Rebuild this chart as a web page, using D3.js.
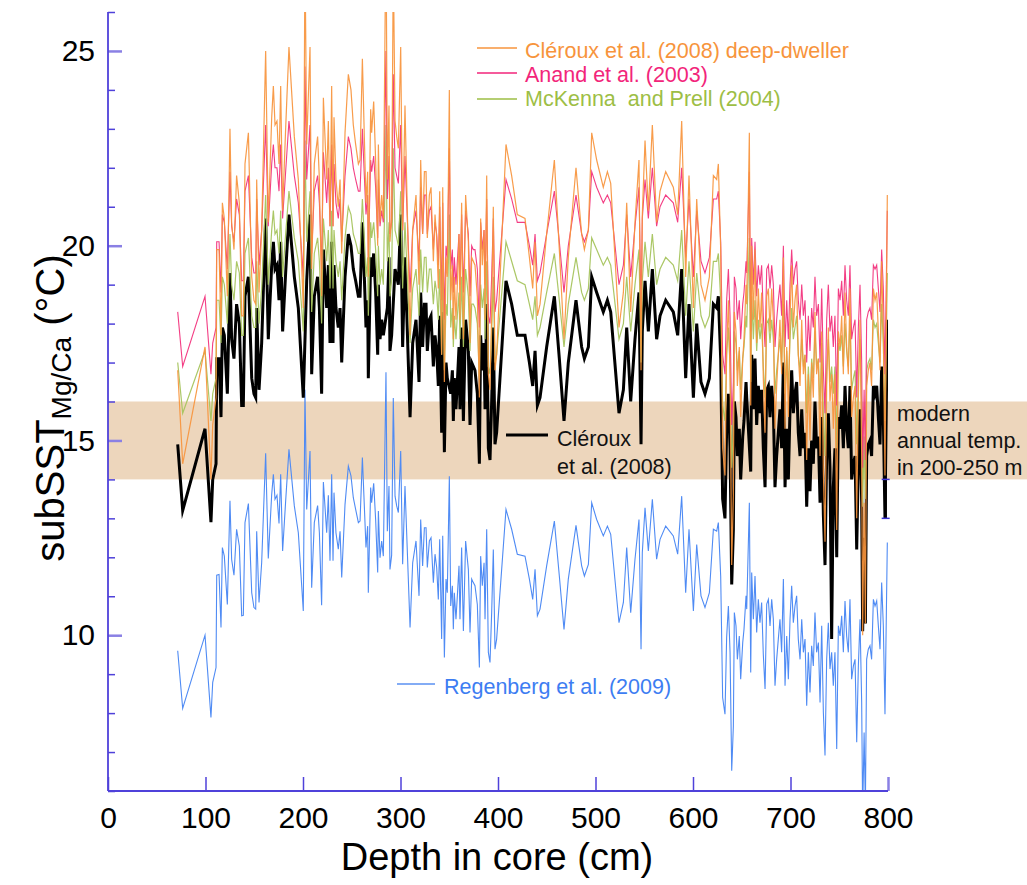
<!DOCTYPE html>
<html><head><meta charset="utf-8">
<script src="https://cdn.jsdelivr.net/npm/d3@7"></script>
<style>body{margin:0;background:#fff;} svg text{font-family:"Liberation Sans",Arial,sans-serif;}</style>
</head><body><svg id="c" width="1027" height="885"></svg>
<script>
// Depth in core (cm), shared by all series
const depth = [
71.5,76.6,99.5,105.6,107.4,110.8,111.5,113.9,115.9,117.3,
119.3,122.4,125.1,126.8,129.2,131.9,134.7,137.1,138.8,140.5,
144.0,147.4,149.7,151.5,152.5,154.9,157.6,161.7,164.4,167.9,
169.6,171.3,173.3,175.4,177.1,179.1,182.2,185.6,191.1,195.2,
200.3,202.0,203.8,207.2,208.9,211.6,215.0,216.8,219.1,220.9,
224.3,226.0,227.7,229.4,230.8,231.8,233.8,236.2,238.0,239.7,
243.1,246.5,249.2,251.6,254.0,256.8,258.5,260.9,262.9,264.6,
266.3,267.0,269.4,270.4,272.5,274.5,276.6,277.3,279.0,280.7,
282.4,285.1,286.5,288.2,289.2,290.9,292.6,294.4,296.1,297.8,
300.2,302.2,304.6,309.8,312.5,315.9,319.0,320.7,322.7,324.5,
326.2,327.5,329.6,331.3,333.7,335.4,337.1,338.8,340.2,342.2,
343.3,345.0,346.7,348.0,350.1,351.5,353.2,354.2,355.2,356.9,
358.3,360.0,361.0,362.7,364.5,366.8,369.6,371.3,373.0,374.7,
376.4,378.8,380.9,382.2,383.9,385.7,386.7,388.4,390.1,391.8,
393.5,395.2,396.9,398.6,408.2,414.0,419.8,427.7,432.2,435.6,
438.0,440.4,443.1,449.9,457.8,462.9,467.7,472.1,480.0,485.8,
488.6,492.7,496.1,501.2,508.0,512.2,515.6,524.1,528.6,532.0,
536.1,540.5,544.6,546.7,548.0,550.8,554.2,558.3,562.7,566.2,
572.0,579.8,584.3,588.4,592.5,595.9,600.4,603.8,608.2,612.3,
616.8,620.9,624.3,626.0,628.4,630.4,632.8,634.5,636.3,638.0,
639.7,641.4,642.4,644.1,645.5,647.5,648.9,651.0,652.3,654.4,
655.1,657.8,659.2,660.2,661.9,663.6,665.3,667.0,668.7,670.4,
672.1,673.9,675.6,677.3,679.0,680.7,682.4,684.1,685.8,687.5,
689.2,690.9,692.7,694.4,696.1,697.8,699.5,701.2,702.9,704.6,
706.3,708.0,709.8,711.5,713.2,714.9,716.6,718.3,720.0,721.7,
723.4,725.1,726.8,728.6,730.3,732.0,733.7,735.4,737.1,738.8,
740.5,742.2,743.9,745.6,747.4,749.1,750.8,752.5,754.2,755.9,
757.6,759.3,761.0,762.7,764.5,766.2,767.9,769.6,771.3,773.0,
774.0,775.5,776.8,778.1,779.8,781.5,783.2,785.0,786.7,788.4,
790.1,791.8,793.5,795.2,796.9,799.3];

// Regenberg et al. (2009)
const regenberg = [
9.60,8.12,10.00,7.89,8.79,9.17,11.54,11.56,10.20,12.25,
12.03,10.79,13.45,11.95,11.54,12.72,12.29,10.50,10.51,12.89,
13.38,11.09,10.71,10.67,12.67,10.84,11.86,14.67,11.97,13.62,
14.13,13.49,13.59,12.87,14.13,12.16,13.44,14.77,13.32,12.63,
10.62,16.31,13.23,14.73,11.22,12.89,13.33,12.63,10.77,13.93,
12.63,13.59,11.91,14.13,11.91,13.66,12.63,12.21,12.67,11.48,
13.36,14.34,14.09,13.53,13.23,12.89,12.93,14.56,13.32,12.25,
12.80,11.09,13.79,13.40,13.90,12.97,11.61,13.19,11.99,12.42,
12.03,16.75,12.67,13.83,11.69,12.05,16.09,13.57,13.32,13.15,
14.73,11.82,13.83,10.20,11.86,12.42,11.01,12.97,11.78,12.76,
12.76,11.74,12.42,12.50,11.35,12.08,11.74,10.92,12.46,9.90,
12.55,9.43,11.44,11.09,14.08,10.75,11.27,10.15,11.09,10.41,
11.01,11.78,10.41,12.25,10.11,12.42,11.69,10.07,11.44,11.35,
11.27,10.79,9.17,12.03,11.27,11.86,10.41,12.72,9.56,9.30,
10.58,12.20,9.64,9.90,13.23,12.72,12.08,12.03,11.44,10.92,
11.69,10.50,10.67,11.78,12.93,11.52,10.15,11.44,12.82,11.78,
11.52,11.82,13.40,12.97,12.55,12.80,12.59,10.32,10.84,12.25,
10.58,11.95,12.97,9.64,12.12,13.27,12.16,13.49,11.95,12.46,
12.80,12.55,12.08,13.57,11.09,12.72,10.62,12.33,11.01,10.71,
11.09,12.72,12.67,12.89,11.52,8.40,7.97,9.94,10.75,9.56,
6.52,7.67,10.58,10.24,9.38,9.98,8.87,9.81,10.15,11.01,
10.67,13.40,9.04,11.61,10.41,11.52,10.07,10.92,10.32,10.84,
9.51,8.62,10.80,10.92,10.24,10.92,10.41,8.70,9.38,9.90,
10.41,9.56,11.44,8.70,9.98,8.87,10.41,11.27,10.32,10.75,
11.01,9.90,9.38,10.41,9.56,9.90,8.19,9.56,8.53,9.73,
9.21,10.58,9.56,9.81,8.27,10.24,8.02,6.91,9.38,10.32,
9.13,9.56,8.70,9.56,7.08,10.24,9.98,10.50,9.56,10.88,
9.98,9.56,10.92,8.87,9.21,9.38,7.25,9.21,10.41,8.27,
5.40,7.50,5.60,9.38,9.64,9.73,9.38,10.92,10.75,10.88,
10.24,9.64,11.35,10.24,7.97,12.38];

// Cléroux et al. (2008) (black)
const cleroux = [
14.9,13.2,15.3,12.9,14.0,14.4,17.1,17.1,15.6,17.9,
17.7,16.2,19.3,17.6,17.1,18.5,18.0,15.9,15.9,18.7,
19.2,16.6,16.2,16.1,18.4,16.3,17.5,20.7,17.6,19.5,
20.1,19.4,19.5,18.6,20.1,17.8,19.3,20.8,19.2,18.4,
16.1,null,19.1,20.8,16.7,18.7,19.2,18.4,16.2,19.9,
18.4,19.5,17.5,20.1,17.5,19.5,18.4,17.9,18.4,17.0,
19.2,20.3,20.0,19.4,19.1,18.7,18.7,20.6,19.2,17.9,
18.6,16.6,19.7,19.2,19.8,18.8,17.2,19.0,17.6,18.1,
17.7,null,18.4,19.7,17.3,17.7,null,19.4,19.2,19.0,
20.8,17.4,19.7,15.6,17.5,18.1,16.5,18.8,17.4,18.5,
18.5,17.3,18.1,18.2,16.9,17.7,17.3,16.4,18.2,15.2,
18.3,14.7,17.0,16.6,null,16.2,16.8,15.5,16.6,15.8,
16.5,17.4,15.8,17.9,15.5,18.1,17.3,15.4,17.0,16.9,
16.8,16.2,14.4,17.7,16.8,17.5,15.8,18.5,14.8,14.5,
16.0,17.9,14.9,15.2,19.1,18.5,17.7,17.7,17.0,16.4,
17.3,15.9,16.1,17.4,18.7,17.1,15.5,17.0,18.6,17.4,
17.1,17.4,19.2,18.8,18.3,18.6,18.3,15.7,16.3,17.9,
16.0,17.6,18.8,14.9,17.8,19.1,17.8,19.4,17.6,18.2,
18.6,18.3,17.7,19.4,16.6,18.5,16.1,18.0,16.5,16.2,
16.6,18.5,18.4,18.7,17.1,13.5,13.0,15.3,16.2,14.8,
11.3,12.7,16.0,15.6,14.6,15.3,14.0,15.1,15.5,16.5,
16.1,null,14.2,17.2,15.8,17.1,15.4,16.4,15.7,16.3,
14.8,13.8,16.3,16.4,15.6,16.4,15.8,13.8,14.6,15.2,
15.8,14.8,17.0,13.8,15.3,14.0,15.8,16.8,15.7,16.2,
16.5,15.2,14.6,15.8,14.8,15.2,13.3,14.8,13.7,15.0,
14.4,16.0,14.8,15.1,13.4,15.6,13.1,11.8,14.6,15.7,
14.3,9.9,13.8,14.8,12.0,15.6,15.3,15.9,14.8,16.4,
15.3,14.8,16.4,14.0,14.4,14.6,12.2,14.4,15.8,13.4,
10.1,12.5,10.3,14.6,14.9,15.0,14.6,16.4,16.2,16.4,
15.6,14.9,16.9,15.6,13.0,18.1];

// Anand et al. (2003)
const anand = [
18.3,16.9,18.7,16.7,17.5,17.9,20.1,20.1,18.8,20.8,
20.6,19.4,21.9,20.5,20.1,21.2,20.8,19.1,19.1,21.4,
21.8,19.7,19.3,19.3,21.2,19.5,20.4,23.1,20.5,22.1,
22.6,22.0,22.0,21.4,22.6,20.7,21.9,23.2,21.8,21.1,
19.2,24.6,21.7,23.1,19.8,21.4,21.8,21.1,19.4,22.4,
21.1,22.0,20.5,22.6,20.5,22.1,21.1,20.7,21.2,20.1,
21.8,22.8,22.5,22.0,21.7,21.4,21.4,23.0,21.8,20.8,
21.3,19.7,22.2,21.9,22.3,21.5,20.2,21.7,20.5,20.9,
20.6,25.0,21.2,22.3,20.3,20.6,24.4,22.0,21.8,21.6,
23.1,20.4,22.3,18.8,20.4,20.9,19.6,21.5,20.3,21.3,
21.3,20.3,20.9,21.0,19.9,20.6,20.3,19.5,21.0,18.6,
21.1,18.1,20.0,19.7,22.5,19.4,19.9,18.8,19.7,19.0,
19.6,20.3,19.0,20.8,18.8,20.9,20.3,18.7,20.0,19.9,
19.9,19.4,17.9,20.6,19.9,20.4,19.0,21.2,18.2,18.0,
19.2,20.7,18.3,18.6,21.7,21.2,20.6,20.6,20.0,19.5,
20.3,19.1,19.3,20.3,21.4,20.1,18.8,20.0,21.3,20.3,
20.1,20.4,21.9,21.5,21.1,21.3,21.1,19.0,19.5,20.8,
19.2,20.5,21.5,18.3,20.7,21.7,20.7,22.0,20.5,21.0,
21.3,21.1,20.6,22.0,19.7,21.2,19.2,20.9,19.6,19.3,
19.7,21.2,21.2,21.4,20.1,17.2,16.7,18.6,19.4,18.2,
15.4,16.5,19.2,18.9,18.1,18.6,17.6,18.5,18.8,19.6,
19.3,21.9,17.8,20.2,19.0,20.1,18.7,19.5,19.0,19.5,
18.2,17.4,19.4,19.5,18.9,19.5,19.0,17.4,18.1,18.6,
19.0,18.2,20.0,17.4,18.6,17.6,19.0,19.9,19.0,19.4,
19.6,18.6,18.1,19.0,18.2,18.6,17.0,18.2,17.3,18.4,
17.9,19.2,18.2,18.5,17.0,18.9,16.8,15.7,18.1,19.0,
17.8,18.2,17.4,18.2,15.9,18.9,18.6,19.1,18.2,19.5,
18.6,18.2,19.5,17.6,17.9,18.1,16.1,17.9,19.0,17.0,
14.3,16.3,14.5,18.1,18.3,18.4,18.1,19.5,19.4,19.5,
18.9,18.3,19.9,18.9,16.7,20.9];

// McKenna and Prell (2004)
const mckenna = [
17.0,15.7,17.3,15.5,16.2,16.6,18.6,18.6,17.5,19.2,
19.0,18.0,20.3,19.0,18.6,19.6,19.3,17.7,17.7,19.8,
20.2,18.2,17.9,17.9,19.6,18.0,18.9,21.3,19.0,20.4,
20.9,20.3,20.4,19.8,20.9,19.2,20.3,21.4,20.2,19.6,
17.8,22.7,20.1,21.4,18.3,19.8,20.2,19.6,18.0,20.7,
19.6,20.4,18.9,20.9,18.9,20.4,19.6,19.2,19.6,18.6,
20.2,21.0,20.8,20.3,20.1,19.8,19.8,21.2,20.2,19.2,
19.7,18.2,20.6,20.2,20.6,19.9,18.7,20.0,19.0,19.4,
19.0,23.1,19.6,20.6,18.7,19.1,22.5,20.4,20.2,20.0,
21.4,18.9,20.6,17.5,18.9,19.4,18.2,19.9,18.8,19.7,
19.7,18.8,19.4,19.4,18.5,19.1,18.8,18.1,19.4,17.2,
19.5,16.8,18.5,18.2,20.8,17.9,18.4,17.4,18.2,17.6,
18.2,18.8,17.6,19.2,17.4,19.4,18.7,17.3,18.5,18.5,
18.4,18.0,16.6,19.0,18.4,18.9,17.6,19.6,16.9,16.7,
17.8,19.2,17.0,17.2,20.1,19.6,19.1,19.0,18.5,18.1,
18.7,17.7,17.9,18.8,19.8,18.6,17.4,18.5,19.7,18.8,
18.6,18.9,20.2,19.9,19.5,19.7,19.5,17.6,18.0,19.2,
17.8,19.0,19.9,17.0,19.1,20.1,19.2,20.3,19.0,19.4,
19.7,19.5,19.1,20.4,18.2,19.6,17.8,19.3,18.2,17.9,
18.2,19.6,19.6,19.8,18.6,15.9,15.5,17.2,17.9,16.9,
14.3,15.3,17.8,17.5,16.8,17.3,16.3,17.1,17.4,18.2,
17.9,20.2,16.5,18.7,17.6,18.6,17.3,18.1,17.6,18.0,
16.9,16.1,18.0,18.1,17.5,18.1,17.6,16.2,16.8,17.2,
17.6,16.9,18.5,16.2,17.3,16.3,17.6,18.4,17.6,17.9,
18.2,17.2,16.8,17.6,16.9,17.2,15.7,16.9,16.0,17.1,
16.6,17.8,16.9,17.1,15.8,17.5,15.6,14.6,16.8,17.6,
16.5,16.9,16.2,16.9,14.8,17.5,17.3,17.7,16.9,18.0,
17.3,16.9,18.1,16.3,16.6,16.8,14.9,16.6,17.6,15.8,
13.3,15.1,13.5,16.8,17.0,17.1,16.8,18.1,17.9,18.0,
17.5,17.0,18.5,17.5,15.5,19.3];

// Cléroux et al. (2008) deep-dweller
const clerouxDeep = [
16.8,14.4,17.4,14.0,15.4,16.1,19.9,19.9,17.7,21.1,
20.7,18.7,23.0,20.6,19.9,21.8,21.1,18.2,18.2,22.1,
22.9,19.2,18.6,18.5,21.7,18.8,20.4,25.0,20.6,23.3,
24.1,23.1,23.2,22.1,24.1,20.9,23.0,25.1,22.8,21.7,
18.4,27.6,22.6,25.1,19.4,22.1,22.8,21.7,18.7,23.8,
21.7,23.2,20.5,24.1,20.5,23.3,21.7,21.0,21.7,19.8,
22.9,24.4,24.0,23.1,22.6,22.1,22.2,24.8,22.8,21.1,
21.9,19.2,23.5,22.9,23.7,22.2,20.0,22.6,20.6,21.3,
20.7,28.3,21.7,23.6,20.1,20.7,27.3,23.2,22.8,22.5,
25.1,20.4,23.6,17.7,20.4,21.3,19.0,22.2,20.3,21.9,
21.9,20.2,21.3,21.5,19.6,20.8,20.2,18.9,21.4,17.2,
21.5,16.5,19.7,19.2,24.0,18.6,19.5,17.6,19.2,18.1,
19.0,20.3,18.1,21.1,17.6,21.3,20.1,17.5,19.7,19.6,
19.5,18.7,16.1,20.7,19.5,20.4,18.1,21.8,16.7,16.3,
18.3,21.0,16.8,17.2,22.6,21.8,20.8,20.7,19.7,18.9,
20.1,18.2,18.5,20.3,22.2,19.9,17.6,19.7,22.0,20.3,
19.9,20.4,22.9,22.2,21.5,21.9,21.6,17.9,18.8,21.1,
18.3,20.6,22.2,16.8,20.8,22.7,20.9,23.1,20.6,21.4,
21.9,21.5,20.8,23.2,19.2,21.8,18.4,21.2,19.0,18.6,
19.2,21.8,21.7,22.1,19.9,14.8,14.1,17.3,18.6,16.7,
11.8,13.6,18.3,17.8,16.4,17.4,15.6,17.1,17.6,19.0,
18.5,22.9,15.9,20.0,18.1,19.9,17.5,18.9,17.9,18.8,
16.6,15.2,18.7,18.9,17.8,18.9,18.1,15.3,16.4,17.2,
18.1,16.7,19.7,15.3,17.4,15.6,18.1,19.5,17.9,18.6,
19.0,17.2,16.4,18.1,16.7,17.2,14.5,16.7,15.0,17.0,
16.1,18.3,16.7,17.1,14.6,17.8,14.2,12.4,16.4,17.9,
16.0,16.7,15.3,16.7,12.7,17.8,17.4,18.2,16.7,18.8,
17.4,16.7,18.9,15.6,16.1,16.4,13.0,16.1,18.1,14.6,
10.0,13.4,10.3,16.4,16.8,17.0,16.4,18.9,18.6,18.8,
17.8,16.8,19.6,17.8,14.1,21.3];

const xTickValues = [0,100,200,300,400,500,600,700,800];
const yMajorTicks = [10,15,20,25];
const yMinorTicks = [6,7,8,9,11,12,13,14,16,17,18,19,21,22,23,24,26];
const modernBand = [14,16];          // modern annual temp. in 200-250 m
const errorBar = {depth: 797.6, lo: 13, hi: 14};

[regenberg, cleroux, anand, mckenna, clerouxDeep].forEach((a,i)=>{
  if (a.length !== depth.length) throw new Error("length mismatch series "+i+": "+a.length+" vs "+depth.length);
});

const svg = d3.select("#c");
const x = d3.scaleLinear().domain([0,800]).range([108,888]);
const y = d3.scaleLinear().domain([6,26]).range([791,12]);

const AX = "#4f41da", AXL = "#8a80e4";

svg.append("defs").append("clipPath").attr("id","plot")
  .append("rect").attr("x",108).attr("y",12).attr("width",780).attr("height",779);

// modern temperature band (extends to the right edge)
svg.append("rect")
  .attr("x", x(0)).attr("y", y(modernBand[1]))
  .attr("width", 1027 - x(0)).attr("height", y(modernBand[0]) - y(modernBand[1]))
  .attr("fill", "#edd6bc");

const g = svg.append("g").attr("clip-path","url(#plot)");
const mk = vals => depth.map((d,i)=>({d, v: vals[i]})).filter(p => p.v !== null);
const line = d3.line().x(p=>x(p.d)).y(p=>y(p.v));

const series = [
  {vals: regenberg,   color: "#4f8bf4", w: 1.1, o: 1},
  {vals: cleroux,     color: "#000000", w: 3,   o: 1},
  {vals: mckenna,     color: "#a6c45e", w: 1.2, o: 0.95},
  {vals: anand,       color: "#f2347d", w: 1.1, o: 0.95},
  {vals: clerouxDeep, color: "#f7943c", w: 1.2, o: 0.92}
];
series.forEach(s=>{
  g.append("path").datum(mk(s.vals)).attr("d", line)
    .attr("fill","none").attr("stroke", s.color).attr("stroke-width", s.w)
    .attr("stroke-opacity", s.o)
    .attr("stroke-linejoin","miter").attr("stroke-miterlimit", 6);
});

// error bar at the right end
svg.append("line").attr("x1",x(errorBar.depth)).attr("x2",x(errorBar.depth))
  .attr("y1",y(errorBar.hi)).attr("y2",y(errorBar.lo)).attr("stroke","#000").attr("stroke-width",2.5);
[errorBar.lo, errorBar.hi].forEach(v=>{
  svg.append("line").attr("x1",x(errorBar.depth)-4).attr("x2",x(errorBar.depth)+4)
    .attr("y1",y(v)).attr("y2",y(v)).attr("stroke","#3a33d6").attr("stroke-width",1.5);
});

// Y axis: minor ticks
const yMinor = svg.append("g").attr("transform",`translate(${x(0)},0)`)
  .call(d3.axisLeft(y).tickValues(yMinorTicks).tickSize(-7).tickFormat(""));
yMinor.select(".domain").remove();
yMinor.selectAll("line").attr("stroke",AX).attr("stroke-width",1.5);
// Y axis: major ticks + labels
const yMajor = svg.append("g").attr("transform",`translate(${x(0)},0)`)
  .call(d3.axisLeft(y).tickValues(yMajorTicks).tickSize(-14).tickPadding(13));
yMajor.select(".domain").remove();
yMajor.selectAll("line").attr("stroke",AXL).attr("stroke-width",2.5);
yMajor.selectAll("text").attr("font-size",30).attr("fill","#000")
  .style("font-family","'Liberation Sans', Arial, sans-serif");

// X axis
const xAx = svg.append("g").attr("transform",`translate(0,${y(6)})`)
  .call(d3.axisBottom(x).tickValues(xTickValues).tickSize(-14).tickPadding(16));
xAx.select(".domain").remove();
xAx.selectAll("line").attr("stroke",AX).attr("stroke-width",1.5);
xAx.selectAll(".tick").filter(d=>d===800).select("line").attr("stroke",AXL).attr("stroke-width",2.5);
xAx.selectAll("text").attr("font-size",30).attr("fill","#000")
  .style("font-family","'Liberation Sans', Arial, sans-serif");

// axis lines
svg.append("line").attr("x1",x(0)).attr("x2",x(0)).attr("y1",y(26)).attr("y2",y(6))
  .attr("stroke",AX).attr("stroke-width",1.8);
svg.append("line").attr("x1",x(0)).attr("x2",x(800)).attr("y1",y(6)).attr("y2",y(6))
  .attr("stroke",AX).attr("stroke-width",1.8);

// Axis titles
svg.append("text").attr("x",497).attr("y",870).attr("text-anchor","middle")
  .attr("font-size",38).attr("fill","#000").text("Depth in core (cm)");
const yt = svg.append("text").attr("transform","translate(64,408) rotate(-90)")
  .attr("text-anchor","middle").attr("font-size",40).attr("fill","#000");
yt.append("tspan").text("subSST");
yt.append("tspan").attr("font-size",28).attr("dy",7).text("Mg/Ca");
yt.append("tspan").attr("dy",-7).text(" (°C)");

// Legend
const legend = [
  {label:"Cléroux et al. (2008) deep-dweller", color:"#f7943c", ly:48, ty:58},
  {label:"Anand et al. (2003)", color:"#f2257a", ly:73, ty:82},
  {label:"McKenna  and Prell (2004)", color:"#9dbe45", ly:99, ty:106}
];
legend.forEach(l=>{
  svg.append("line").attr("x1",477).attr("x2",517).attr("y1",l.ly).attr("y2",l.ly)
    .attr("stroke",l.color).attr("stroke-width",1.5);
  svg.append("text").attr("x",525).attr("y",l.ty).attr("font-size",21.5)
    .attr("fill",l.color).attr("xml:space","preserve").style("white-space","pre").text(l.label);
});
svg.append("line").attr("x1",397).attr("x2",435).attr("y1",684).attr("y2",684)
  .attr("stroke","#5a90f2").attr("stroke-width",1.5);
svg.append("text").attr("x",444).attr("y",694).attr("font-size",21.5).attr("fill","#3d7df2")
  .text("Regenberg et al. (2009)");

// Cléroux label
svg.append("line").attr("x1",506).attr("x2",548).attr("y1",435).attr("y2",435)
  .attr("stroke","#000").attr("stroke-width",3);
svg.append("text").attr("x",557).attr("y",446).attr("font-size",21.5).attr("fill","#111").text("Cléroux");
svg.append("text").attr("x",557).attr("y",474).attr("font-size",21.5).attr("fill","#111").text("et al. (2008)");

// modern annotation
["modern","annual temp.","in 200-250 m"].forEach((t,i)=>{
  svg.append("text").attr("x",897).attr("y",421+i*27).attr("font-size",21.5).attr("fill","#111").text(t);
});
</script>
</body></html>
